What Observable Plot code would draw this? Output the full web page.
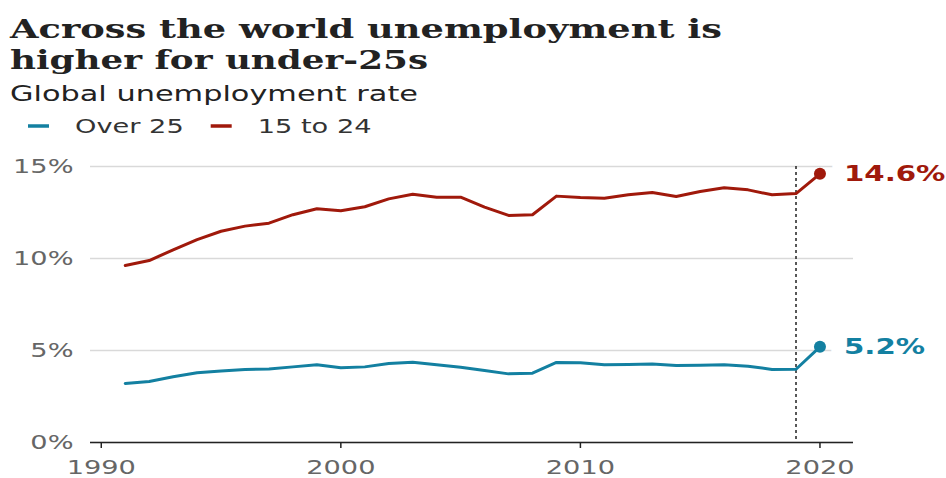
<!DOCTYPE html>
<html><head><meta charset="utf-8">
<script src="https://cdn.jsdelivr.net/npm/d3@7"></script>
<script src="https://cdn.jsdelivr.net/npm/@observablehq/plot@0.6"></script>
<style>
html,body{margin:0;padding:0;background:#fff;}
svg{display:block;}
</style></head><body>
<div id="header"></div>
<div id="chart"></div>
<script>
// ---- data ----
const years = [1991,1992,1993,1994,1995,1996,1997,1998,1999,2000,2001,2002,2003,2004,2005,2006,2007,2008,2009,2010,2011,2012,2013,2014,2015,2016,2017,2018,2019,2020];
const over25 = [3.21,3.32,3.57,3.79,3.88,3.97,3.99,4.11,4.22,4.06,4.11,4.29,4.36,4.22,4.09,3.91,3.73,3.77,4.35,4.33,4.22,4.24,4.26,4.18,4.20,4.22,4.15,3.97,3.98,5.2];
const youth = [9.62,9.89,10.47,11.03,11.48,11.76,11.92,12.38,12.70,12.59,12.81,13.24,13.49,13.33,13.33,12.79,12.34,12.38,13.39,13.32,13.28,13.46,13.59,13.37,13.64,13.84,13.73,13.46,13.53,14.6];
const seriesNames = ["Over 25", "15 to 24"];
const seriesColors = ["#1380a1", "#a0190b"];
const xTicks = [1990, 2000, 2010, 2020];
const yTicks = [0, 5, 10, 15];
const titleLines = ["Across the world unemployment is", "higher for under-25s"];
const subtitle = "Global unemployment rate";
const dividerYear = 2019;

const STRETCH = 1.36;
function stretchText(t, k = STRETCH) {
  const L = t.getComputedTextLength();
  if (L > 0) {
    t.setAttribute("textLength", L * k);
    t.setAttribute("lengthAdjust", "spacingAndGlyphs");
  }
  return L * k;
}
function fitText(t, w) {
  t.setAttribute("textLength", w);
  t.setAttribute("lengthAdjust", "spacingAndGlyphs");
}

// ---- header (title, subtitle, legend) ----
const header = d3.select("#header").append("svg").attr("width", 946).attr("height", 145);
const titleWidths = [712, 418];
header.selectAll("text.title").data(titleLines).join("text")
  .attr("class", "title")
  .attr("x", 10).attr("y", (d, i) => 37.5 + i * 31)
  .attr("font-family", "DejaVu Serif").attr("font-weight", "bold").attr("font-size", 26.5)
  .attr("fill", "#222").text(d => d)
  .each(function(d, i) { fitText(this, titleWidths[i]); });
const sub = header.append("text").attr("x", 10).attr("y", 100.5)
  .attr("font-family", "DejaVu Sans").attr("font-size", 21.5).attr("fill", "#222").text(subtitle);
fitText(sub.node(), 408);

let lx = 28;
seriesNames.forEach((name, i) => {
  header.append("line").attr("x1", lx).attr("x2", lx + 21).attr("y1", 126).attr("y2", 126)
    .attr("stroke", seriesColors[i]).attr("stroke-width", 3.5);
  const t = header.append("text").attr("x", lx + 47).attr("y", 133)
    .attr("font-family", "DejaVu Sans").attr("font-size", 20).attr("fill", "#333").text(name);
  const w = stretchText(t.node());
  lx = lx + 47 + w + 27;
});

// ---- chart ----
const rows = [];
years.forEach((yr, i) => {
  rows.push({year: yr, value: over25[i], series: seriesNames[0]});
  rows.push({year: yr, value: youth[i], series: seriesNames[1]});
});
const lastRows = rows.filter(d => d.year === years[years.length - 1]);

const chart = Plot.plot({
  width: 946, height: 333,
  marginLeft: 90, marginRight: 93, marginTop: 21, marginBottom: 36,
  style: {fontFamily: "DejaVu Sans", fontSize: "20px", background: "white", overflow: "visible"},
  x: {domain: [1989.55, 2021.4]},
  y: {domain: [0, 15]},
  color: {domain: seriesNames, range: seriesColors},
  marks: [
    Plot.gridY(yTicks, {stroke: "#d9d9d9", strokeOpacity: 1, strokeWidth: 1.5}),
    Plot.axisY(yTicks, {tickSize: 0, tickPadding: 17, tickFormat: d => d + "%", label: null, fill: "#666", fontSize: 20}),
    Plot.ruleY([0], {stroke: "#222", strokeWidth: 1.5}),
    Plot.axisX(xTicks, {tickSize: 6, tickPadding: 11, tickFormat: d => String(d), label: null, stroke: "#222", strokeWidth: 1.5, fill: "#666", fontSize: 20}),
    Plot.ruleX([dividerYear], {stroke: "#222", strokeDasharray: "3,3", strokeWidth: 1.5}),
    Plot.line(rows, {x: "year", y: "value", z: "series", stroke: "series", strokeWidth: 3}),
    Plot.text(lastRows, {x: "year", y: "value", text: d => d.value + "%", fill: "series", dx: 24, textAnchor: "start", fontWeight: "bold", fontSize: 21.5, stroke: "white", strokeWidth: 22, paintOrder: "stroke"}),
    Plot.dot(lastRows, {x: "year", y: "value", fill: "series", r: 6})
  ]
});
document.getElementById("chart").appendChild(chart);
chart.querySelectorAll("text").forEach(t => stretchText(t));
</script>
</body></html>
